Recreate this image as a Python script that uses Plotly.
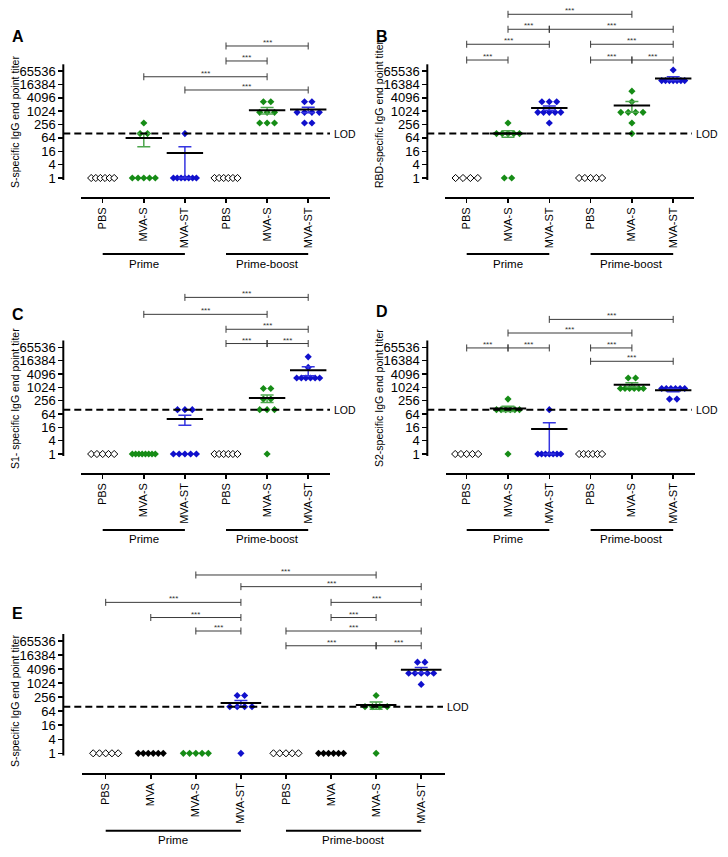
import math
import numpy as np
import plotly.graph_objects as go

W, H = 728, 857
FONT = "Liberation Sans, Arial, Helvetica, sans-serif"

# ---------------- data ----------------
categories_6 = ["PBS", "MVA-S", "MVA-ST", "PBS", "MVA-S", "MVA-ST"]
categories_8 = ["PBS", "MVA", "MVA-S", "MVA-ST", "PBS", "MVA", "MVA-S", "MVA-ST"]
regimens = ["Prime", "Prime-boost"]
y_tick_values = [1, 4, 16, 64, 256, 1024, 4096, 16384, 65536]
y_tick_labels = ["1", "4", "16", "64", "256", "1024", "4096", "16384", "65536"]
LOD = 100

# S-specific IgG (A)
titers_A = [
    [1, 1, 1, 1, 1, 1],
    [300, 100, 100, 1, 1, 1, 1, 1],
    [100, 1, 1, 1, 1, 1, 1, 1],
    [1, 1, 1, 1, 1, 1],
    [2700, 2700, 900, 900, 900, 300, 300, 300],
    [2700, 2700, 900, 900, 900, 900, 300, 300],
]
# RBD-specific IgG (B)
titers_B = [
    [1, 1, 1, 1],
    [300, 100, 100, 100, 100, 100, 1, 1],
    [2700, 2700, 2700, 900, 900, 900, 900, 900, 300],
    [1, 1, 1, 1, 1],
    [8100, 2700, 900, 900, 900, 900, 300, 100],
    [72900, 24300, 24300, 24300, 24300, 24300, 24300, 24300],
]
# S1-specific IgG (C)
titers_C = [
    [1, 1, 1, 1, 1],
    [1, 1, 1, 1, 1, 1, 1, 1],
    [100, 100, 100, 1, 1, 1, 1, 1],
    [1, 1, 1, 1, 1, 1],
    [900, 900, 300, 300, 100, 100, 100, 1],
    [24300, 8100, 2700, 2700, 2700, 2700, 2700, 2700],
]
# S2-specific IgG (D)
titers_D = [
    [1, 1, 1, 1, 1],
    [300, 100, 100, 100, 100, 100, 100, 1],
    [100, 1, 1, 1, 1, 1, 1, 1],
    [1, 1, 1, 1, 1, 1],
    [2700, 2700, 900, 900, 900, 900, 900, 900],
    [900, 900, 900, 900, 900, 900, 300, 300],
]
# S-specific IgG incl. MVA control (E)
titers_E = [
    [1, 1, 1, 1, 1],
    [1, 1, 1, 1, 1, 1],
    [1, 1, 1, 1, 1],
    [300, 300, 100, 100, 100, 100, 1],
    [1, 1, 1, 1, 1],
    [1, 1, 1, 1, 1, 1],
    [300, 100, 100, 100, 100, 1],
    [8100, 8100, 2700, 2700, 2700, 2700, 2700, 900],
]

# significance brackets: (group a, group b, bracket height in log4 units)
sig_A = [(3, 5, 9.87), (3, 4, 8.75), (1, 4, 7.57), (2, 5, 6.58)]
sig_B = [(1, 4, 12.24), (1, 2, 11.12), (2, 5, 11.12), (0, 2, 10.0), (3, 5, 10.0),
         (0, 1, 8.82), (3, 4, 8.82), (4, 5, 8.82)]
sig_C = [(2, 5, 11.74), (1, 4, 10.47), (3, 5, 9.35), (3, 4, 8.28), (4, 5, 8.28)]
sig_D = [(2, 5, 10.09), (1, 4, 9.07), (0, 1, 7.95), (1, 2, 7.95), (3, 4, 7.95), (3, 5, 6.95)]
sig_E = [(2, 6, 12.70), (3, 7, 11.87), (0, 3, 10.75), (5, 7, 10.75), (1, 3, 9.67),
         (5, 6, 9.67), (2, 3, 8.71), (4, 7, 8.71), (4, 6, 7.66), (6, 7, 7.66)]

# ---------------- style ----------------
GREEN = "#168c16"
GREEN_ERR = "#4da64d"
BLUE = "#1010cc"
BLUE_ERR = "#3535e0"
POINT_STYLE = {
    "PBS": dict(color="white", line=dict(color="black", width=1)),
    "MVA": dict(color="black", line=dict(color="black", width=0)),
    "MVA-S": dict(color=GREEN, line=dict(color=GREEN, width=0)),
    "MVA-ST": dict(color=BLUE, line=dict(color=BLUE, width=0)),
}
ERR_COLOR = {"PBS": "black", "MVA": "black", "MVA-S": GREEN_ERR, "MVA-ST": BLUE_ERR}

panels = [
    dict(letter="A", title="S-specific IgG end point titer", cats=categories_6, data=titers_A, sig=sig_A,
         ax=63.3, x0=81, x1=330, cat0=102.7, dcat=41.1, one=178, unit=13.375, xline=197, top=28,
         lod_end=330, group_py=254, label_py=263.5, letter_pos=(10, 36), title_pos=(15, 122),
         swarm_w=23, bar=26, title_size=10.5),
    dict(letter="B", title="RBD-specific IgG end point titer", cats=categories_6, data=titers_B, sig=sig_B,
         ax=427.3, x0=445, x1=694, cat0=466.7, dcat=41.3, one=178, unit=13.375, xline=197, top=2,
         lod_end=692, group_py=254, label_py=263.5, letter_pos=(374, 36), title_pos=(379, 114),
         swarm_w=23, bar=26, title_size=10.5),
    dict(letter="C", title="S1- specific IgG end point titer", cats=categories_6, data=titers_C, sig=sig_C,
         ax=63.3, x0=81, x1=330, cat0=102.7, dcat=41.1, one=454, unit=13.34, xline=472.7, top=284,
         lod_end=330, group_py=530, label_py=539, letter_pos=(10, 314), title_pos=(15, 399),
         swarm_w=23, bar=26, title_size=10.5),
    dict(letter="D", title="S2-specific IgG end point titer", cats=categories_6, data=titers_D, sig=sig_D,
         ax=427.3, x0=445.7, x1=695, cat0=466.7, dcat=41.3, one=454, unit=13.34, xline=472.7, top=305,
         lod_end=692, group_py=530, label_py=539, letter_pos=(374, 312), title_pos=(379, 398),
         swarm_w=23, bar=26, title_size=10.5),
    dict(letter="E", title="S-specific IgG end point titer", cats=categories_8, data=titers_E, sig=sig_E,
         ax=63.3, x0=82, x1=445, cat0=105.7, dcat=45.07, one=753.3, unit=14.04, xline=772.7, top=562,
         lod_end=443, group_py=830.7, label_py=839.5, letter_pos=(10, 613), title_pos=(15, 701),
         swarm_w=25, bar=29, title_size=10.5),
]

LOG4 = math.log10(4)


def swarm_offsets(values, max_width_px, px_per_cat):
    vals = np.asarray(values, dtype=float)
    offs = np.zeros(len(vals))
    for v in np.unique(vals):
        idx = np.where(vals == v)[0]
        n = len(idx)
        if n > 1:
            step = min(7.4, max_width_px / (n - 1))
            offs[idx] = (np.arange(n) - (n - 1) / 2) * step
    return offs / px_per_cat


fig = go.Figure()
shapes = []
annotations = []
layout_axes = {}

for k, p in enumerate(panels, start=1):
    xa = "x" if k == 1 else f"x{k}"
    ya = "y" if k == 1 else f"y{k}"
    xkey = "xaxis" if k == 1 else f"xaxis{k}"
    ykey = "yaxis" if k == 1 else f"yaxis{k}"
    cats = p["cats"]
    n = len(cats)

    # axes
    xr = [(p["x0"] - p["cat0"]) / p["dcat"], (p["x1"] - p["cat0"]) / p["dcat"]]
    yr = [(p["one"] - p["xline"]) / p["unit"] * LOG4, (p["one"] - p["top"]) / p["unit"] * LOG4]
    layout_axes[xkey] = dict(
        domain=[p["x0"] / W, p["x1"] / W], range=xr, anchor=ya,
        tickmode="array", tickvals=list(range(n)), ticktext=cats, tickangle=-90,
        ticks="outside", ticklen=4, tickwidth=1.5, tickcolor="black",
        showline=True, linewidth=2, linecolor="black", showgrid=False, zeroline=False,
        tickfont=dict(family=FONT, size=11, color="black"), automargin=False, fixedrange=True,
    )
    layout_axes[ykey] = dict(
        type="log", domain=[1 - p["xline"] / H, 1 - p["top"] / H], range=yr,
        anchor="free", position=p["ax"] / W, side="left",
        tickmode="array", tickvals=y_tick_values, ticktext=y_tick_labels,
        ticks="outside", ticklen=5, tickwidth=1.5, tickcolor="black",
        showline=False, showgrid=False, zeroline=False,
        tickfont=dict(family=FONT, size=13, color="black"), automargin=False, fixedrange=True,
    )

    # y-axis line
    shapes.append(dict(type="line", xref="paper", yref=ya, x0=p["ax"] / W, x1=p["ax"] / W,
                       y0=4 ** -0.15, y1=4 ** 8.5, line=dict(color="black", width=2)))
    # LOD line
    shapes.append(dict(type="line", xref="paper", yref=ya, x0=p["ax"] / W, x1=p["lod_end"] / W,
                       y0=LOD, y1=LOD, line=dict(color="black", width=2, dash="7px,4px")))
    annotations.append(dict(text="LOD", xref="paper", yref=ya, x=(p["lod_end"] + 1.5) / W,
                            y=math.log10(LOD), xanchor="left", yanchor="middle", showarrow=False,
                            font=dict(family=FONT, size=10.5, color="black")))

    # regimen groups
    half = n // 2
    for gi, (a, b) in enumerate([(0, half - 1), (half, n - 1)]):
        shapes.append(dict(type="line", xref=xa, yref="paper", x0=a, x1=b,
                           y0=1 - p["group_py"] / H, y1=1 - p["group_py"] / H,
                           line=dict(color="black", width=2)))
        annotations.append(dict(text=regimens[gi], xref=xa, yref="paper", x=(a + b) / 2,
                                y=1 - p["label_py"] / H, xanchor="center", yanchor="middle",
                                showarrow=False, font=dict(family=FONT, size=11.5, color="black")))

    # panel letter and y title
    annotations.append(dict(text=f"<b>{p['letter']}</b>", xref="paper", yref="paper",
                            x=p["letter_pos"][0] / W, y=1 - p["letter_pos"][1] / H,
                            xanchor="left", yanchor="middle", showarrow=False,
                            font=dict(family=FONT, size=16, color="black")))
    annotations.append(dict(text=p["title"], xref="paper", yref="paper", textangle=-90,
                            x=p["title_pos"][0] / W, y=1 - p["title_pos"][1] / H,
                            xanchor="center", yanchor="middle", showarrow=False,
                            font=dict(family=FONT, size=p["title_size"], color="black")))

    # points
    for gi, vals in enumerate(p["data"]):
        kind = cats[gi]
        offs = swarm_offsets(vals, p["swarm_w"], p["dcat"])
        fig.add_trace(go.Scatter(
            x=gi + offs, y=vals, mode="markers", xaxis=xa, yaxis=ya, cliponaxis=False,
            marker=dict(symbol="diamond", size=5.5, **POINT_STYLE[kind]), hoverinfo="skip"))

    # mean +/- SEM
    for gi, vals in enumerate(p["data"]):
        kind = cats[gi]
        arr = np.asarray(vals, dtype=float)
        mean = arr.mean()
        sem = arr.std(ddof=1) / math.sqrt(len(arr))
        if sem <= 0:
            continue
        fig.add_trace(go.Scatter(
            x=[gi], y=[mean], mode="markers", xaxis=xa, yaxis=ya, cliponaxis=False,
            marker=dict(symbol="line-ew", size=p["bar"], color="black",
                        line=dict(color="black", width=2)),
            error_y=dict(type="data", symmetric=False, array=[sem], arrayminus=[sem],
                         color=ERR_COLOR[kind], thickness=1.5, width=6.5),
            hoverinfo="skip"))

    # significance brackets
    bx, by = [], []
    t = 3.5 / p["unit"]
    for a, b, L in p["sig"]:
        bx += [a, b, None]
        by += [4 ** L, 4 ** L, None]
        for c in (a, b):
            bx += [c, c, None]
            by += [4 ** (L - t), 4 ** (L + t), None]
        annotations.append(dict(text="***", xref=xa, yref=ya, x=(a + b) / 2, y=L * LOG4,
                                xanchor="center", yanchor="bottom", yshift=-3, showarrow=False,
                                font=dict(family=FONT, size=8, color="#333333")))
    fig.add_trace(go.Scatter(x=bx, y=by, mode="lines", xaxis=xa, yaxis=ya,
                             line=dict(color="#3a3a3a", width=1), hoverinfo="skip"))

fig.update_layout(
    width=W, height=H, margin=dict(l=0, r=0, t=0, b=0),
    paper_bgcolor="white", plot_bgcolor="white", template="none",
    showlegend=False, shapes=shapes, annotations=annotations,
    font=dict(family=FONT, color="black"), hovermode=False,
    **layout_axes,
)

fig.write_html(
    "out.html",
    config={"displayModeBar": False, "staticPlot": True},
    post_script="document.body.style.margin='0';document.body.style.overflow='hidden';",
)
